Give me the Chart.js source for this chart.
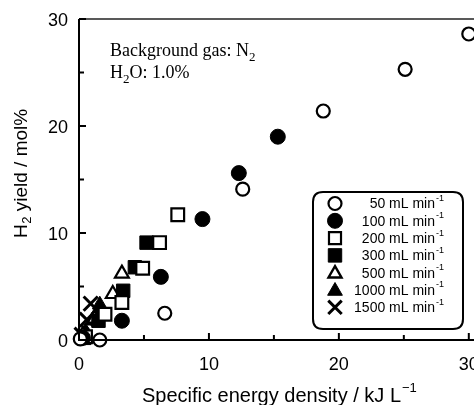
<!DOCTYPE html>
<html><head><meta charset="utf-8">
<script src="https://cdn.jsdelivr.net/npm/chart.js@4/dist/chart.umd.min.js"></script>
<style>html,body{margin:0;padding:0;background:#fff;overflow:hidden}#wrap{width:474px;height:405px;position:relative}canvas{display:block}</style>
</head><body><div id="wrap"><canvas id="c" width="474" height="405"></canvas></div>
<script>
// ---- data (x: specific energy density kJ/L, y: H2 yield mol%) ----
const flowLabels = ['50', '100', '200', '300', '500', '1000', '1500'];
const flow50   = [[0.1,0.1],[1.6,0.0],[6.6,2.5],[12.6,14.1],[18.8,21.4],[25.1,25.3],[30.0,28.6]];
const flow100  = [[0.3,0.2],[3.3,1.8],[6.3,5.9],[9.5,11.3],[12.3,15.6],[15.3,19.0]];
const flow200  = [[0.5,0.3],[2.0,2.4],[3.3,3.5],[4.9,6.7],[6.2,9.1],[7.6,11.7]];
const flow300  = [[0.4,0.2],[1.5,1.8],[3.4,4.6],[4.3,6.8],[5.2,9.1]];
const flow500  = [[0.3,0.5],[1.2,2.0],[2.6,4.3],[3.3,6.2]];
const flow1000 = [[0.5,0.8],[1.0,1.8],[1.3,2.4],[1.6,3.3]];
const flow1500 = [[0.2,0.5],[0.6,1.9],[0.9,3.4]];
const xTicks = [0,5,10,15,20,25,30];
const yTicks = [0,5,10,15,20,25,30];
const xLabelled = [0,10,20,30];
const yLabelled = [0,10,20,30];

const toPts = a => a.map(p => ({x:p[0], y:p[1]}));
const styles = [
  {pointStyle:'circle',   radius:6.5, borderWidth:2.2, bg:'#fff'},
  {pointStyle:'circle',   radius:7.5, borderWidth:1,   bg:'#000'},
  {pointStyle:'rect',     radius:9,   borderWidth:2.2, bg:'#fff'},
  {pointStyle:'rect',     radius:9.5, borderWidth:1,   bg:'#000'},
  {pointStyle:'triangle', radius:8,   borderWidth:2.2, bg:'#fff'},
  {pointStyle:'triangle', radius:8.5, borderWidth:1,   bg:'#000'},
  {pointStyle:'crossRot', radius:10,  borderWidth:3,   bg:'#000'}
];
const allData = [flow50, flow100, flow200, flow300, flow500, flow1000, flow1500];
const datasets = allData.map((d,i) => ({
  label: flowLabels[i] + ' mL min-1',
  data: toPts(d),
  pointStyle: styles[i].pointStyle,
  pointRadius: styles[i].radius,
  pointHoverRadius: styles[i].radius,
  pointBorderWidth: styles[i].borderWidth,
  pointBackgroundColor: styles[i].bg,
  pointBorderColor: '#000',
  showLine: false,
  clip: false
}));

const SANS = '"Liberation Sans", Arial, Helvetica, sans-serif';
const SERIF = '"Liberation Serif", "Times New Roman", serif';

function marker(ctx, st, x, y) {
  ctx.save();
  ctx.fillStyle = st.bg; ctx.strokeStyle = '#000'; ctx.lineWidth = st.borderWidth;
  const r = st.radius;
  ctx.beginPath();
  if (st.pointStyle === 'circle') {
    ctx.arc(x, y, r, 0, Math.PI*2); ctx.fill(); ctx.stroke();
  } else if (st.pointStyle === 'rect') {
    const s = Math.SQRT1_2 * r; ctx.rect(x-s, y-s, 2*s, 2*s); ctx.fill(); ctx.stroke();
  } else if (st.pointStyle === 'triangle') {
    for (let k=0;k<3;k++){ const a = -Math.PI/2 + k*2*Math.PI/3; const px = x+Math.cos(a)*r, py = y + Math.sin(a)*r; k?ctx.lineTo(px,py):ctx.moveTo(px,py);} 
    ctx.closePath(); ctx.fill(); ctx.stroke();
  } else {
    const s = Math.SQRT1_2 * r;
    ctx.moveTo(x-s,y-s); ctx.lineTo(x+s,y+s); ctx.moveTo(x+s,y-s); ctx.lineTo(x-s,y+s); ctx.stroke();
  }
  ctx.restore();
}

const decor = {
  id: 'decor',
  afterDraw(chart) {
    const ctx = chart.ctx, xs = chart.scales.x, ys = chart.scales.y, ca = chart.chartArea;
    ctx.save();
    ctx.strokeStyle = '#000';
    // axes
    ctx.lineWidth = 2;
    ctx.beginPath();
    ctx.moveTo(ca.left, ca.top); ctx.lineTo(ca.left, ca.bottom); ctx.lineTo(ca.right, ca.bottom);
    ctx.stroke();
    ctx.lineWidth = 1.6; ctx.strokeStyle = '#222';
    ctx.beginPath(); ctx.moveTo(ca.left, ca.top); ctx.lineTo(ca.right, ca.top); ctx.stroke();
    ctx.strokeStyle = '#000'; ctx.lineWidth = 2;
    // ticks (inward)
    ctx.beginPath();
    xTicks.forEach(v => { const px = xs.getPixelForValue(v); const L = xLabelled.includes(v)?7:5;
      ctx.moveTo(px, ca.bottom); ctx.lineTo(px, ca.bottom - L); });
    yTicks.forEach(v => { const py = ys.getPixelForValue(v); const L = yLabelled.includes(v)?7:5;
      ctx.moveTo(ca.left, py); ctx.lineTo(ca.left + L, py); });
    ctx.stroke();

    ctx.fillStyle = '#000';
    // tick labels
    ctx.font = '18px ' + SANS; ctx.textBaseline = 'middle';
    ctx.textAlign = 'center';
    xLabelled.forEach(v => ctx.fillText(String(v), xs.getPixelForValue(v), 365));
    ctx.textAlign = 'right';
    yLabelled.forEach(v => ctx.fillText(String(v), 68, ys.getPixelForValue(v) + 2));

    // x title
    ctx.font = '20px ' + SANS; ctx.textBaseline = 'alphabetic'; ctx.textAlign = 'left';
    const xt = 'Specific energy density / kJ L';
    const xw = ctx.measureText(xt).width;
    const xStart = 142;
    ctx.fillText(xt, xStart, 402);
    ctx.font = '13px ' + SANS;
    ctx.fillText('\u22121', xStart + xw + 1, 392);
    // y title
    ctx.save();
    ctx.translate(27, 238); ctx.rotate(-Math.PI/2);
    ctx.font = '19px ' + SANS; ctx.textAlign = 'left';
    ctx.fillText('H', 0, 0);
    let w = ctx.measureText('H').width;
    ctx.font = '13px ' + SANS; ctx.fillText('2', w + 0.5, 4);
    w += ctx.measureText('2').width + 0.5;
    ctx.font = '19px ' + SANS; ctx.fillText(' yield / mol%', w, 0);
    ctx.restore();

    // annotation
    ctx.font = '18px ' + SERIF; ctx.textAlign = 'left';
    const a1 = 'Background gas: N';
    ctx.fillText(a1, 110, 56);
    const a1w = ctx.measureText(a1).width;
    ctx.font = '13px ' + SERIF; ctx.fillText('2', 110 + a1w, 61);
    ctx.font = '18px ' + SERIF; ctx.fillText('H', 110, 78);
    const hw = ctx.measureText('H').width;
    ctx.font = '13px ' + SERIF; ctx.fillText('2', 110 + hw, 83);
    const tw = ctx.measureText('2').width;
    ctx.font = '18px ' + SERIF; ctx.fillText('O: 1.0%', 110 + hw + tw, 78);

    // legend box
    const bl = 313, br = 463, bt = 192, bb = 329, rr = 10;
    ctx.fillStyle = '#fff';
    ctx.beginPath();
    ctx.moveTo(bl+rr, bt); ctx.lineTo(br-rr, bt); ctx.quadraticCurveTo(br, bt, br, bt+rr);
    ctx.lineTo(br, bb-rr); ctx.quadraticCurveTo(br, bb, br-rr, bb);
    ctx.lineTo(bl+rr, bb); ctx.quadraticCurveTo(bl, bb, bl, bb-rr);
    ctx.lineTo(bl, bt+rr); ctx.quadraticCurveTo(bl, bt, bl+rr, bt); ctx.closePath();
    ctx.fill(); ctx.lineWidth = 2; ctx.strokeStyle = '#000'; ctx.stroke();
    ctx.fillStyle = '#000';
    const legStyles = [
      {pointStyle:'circle', radius:6.5, borderWidth:2.2, bg:'#fff'},
      {pointStyle:'circle', radius:7.5, borderWidth:1, bg:'#000'},
      {pointStyle:'rect', radius:8.5, borderWidth:2.2, bg:'#fff'},
      {pointStyle:'rect', radius:9.5, borderWidth:1, bg:'#000'},
      {pointStyle:'triangle', radius:7.5, borderWidth:2.4, bg:'#fff'},
      {pointStyle:'triangle', radius:8.5, borderWidth:1, bg:'#000'},
      {pointStyle:'crossRot', radius:9.5, borderWidth:3, bg:'#000'}
    ];
    flowLabels.forEach((lab, i) => {
      const cy = 203.5 + i * 17.3;
      marker(ctx, legStyles[i], 335, cy + (legStyles[i].pointStyle==='triangle'?1:0));
      ctx.fillStyle = '#000';
      ctx.font = '14px ' + SANS; ctx.textAlign = 'right'; ctx.textBaseline = 'middle';
      ctx.fillText(lab + ' mL min', 435, cy + 1);
      ctx.font = '9px ' + SANS; ctx.textAlign = 'left';
      ctx.fillText('-1', 436, cy - 5);
    });
    ctx.restore();
  }
};

new Chart(document.getElementById('c'), {
  type: 'scatter',
  data: { datasets },
  plugins: [decor],
  options: {
    responsive: false,
    animation: false,
    devicePixelRatio: 1,
    layout: { autoPadding: false, padding: { top: 19, right: 0, left: 0, bottom: 0 } },
    plugins: { legend: { display: false }, tooltip: { enabled: false } },
    scales: {
      x: {
        type: 'linear', min: 0, max: 30.4,
        border: { display: false },
        grid: { display: false },
        afterBuildTicks: s => { s.ticks = xTicks.map(v => ({value: v})); },
        afterFit: s => { s.height = 65; s.paddingLeft = 0; s.paddingRight = 0; },
        ticks: { display: false }
      },
      y: {
        type: 'linear', min: 0, max: 30,
        border: { display: false },
        grid: { display: false },
        afterBuildTicks: s => { s.ticks = yTicks.map(v => ({value: v})); },
        afterFit: s => { s.width = 79; s.paddingTop = 0; s.paddingBottom = 0; },
        ticks: { display: false }
      }
    }
  }
});
</script></body></html>
